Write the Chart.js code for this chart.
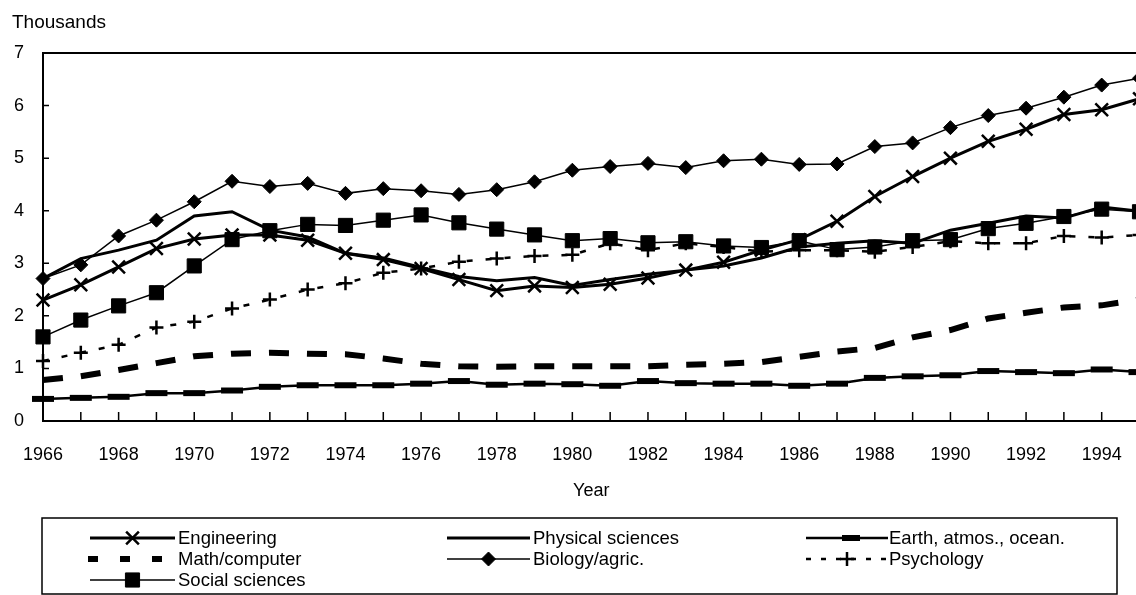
<!DOCTYPE html>
<html>
<head>
<meta charset="utf-8">
<script src="https://cdn.jsdelivr.net/npm/chart.js@4.4.1/dist/chart.umd.min.js"></script>
<style>
  html, body { margin: 0; padding: 0; background: #fff; overflow: hidden; }
  canvas { display: block; }
</style>
</head>
<body>
<canvas id="chart" width="1140" height="595"></canvas>
<script>
// years 1966-1995
const years = [1966, 1967, 1968, 1969, 1970, 1971, 1972, 1973, 1974, 1975,
  1976, 1977, 1978, 1979, 1980, 1981, 1982, 1983, 1984, 1985,
  1986, 1987, 1988, 1989, 1990, 1991, 1992, 1993, 1994, 1995];
const xTickLabels = [1966, 1968, 1970, 1972, 1974, 1976, 1978, 1980, 1982, 1984, 1986, 1988, 1990, 1992, 1994];
const yTickValues = [0, 1, 2, 3, 4, 5, 6, 7];

// thousands
const engineering = [2.30, 2.59, 2.93, 3.28, 3.46, 3.54, 3.54, 3.44, 3.19, 3.07, 2.90, 2.69, 2.48, 2.57, 2.54,
  2.60, 2.72, 2.87, 3.02, 3.25, 3.45, 3.80, 4.27, 4.65, 5.00, 5.32, 5.55, 5.83, 5.92, 6.13];
const physical = [2.71, 3.09, 3.25, 3.44, 3.90, 3.98, 3.63, 3.50, 3.19, 3.10, 2.92, 2.75, 2.67, 2.73, 2.58,
  2.69, 2.79, 2.87, 2.95, 3.10, 3.31, 3.38, 3.43, 3.38, 3.63, 3.76, 3.90, 3.86, 4.07, 3.99];
const earth = [0.42, 0.44, 0.46, 0.53, 0.53, 0.58, 0.65, 0.68, 0.68, 0.68, 0.71, 0.76, 0.69, 0.71, 0.70,
  0.67, 0.76, 0.72, 0.71, 0.71, 0.67, 0.71, 0.82, 0.85, 0.87, 0.95, 0.93, 0.91, 0.98, 0.93];
const mathComputer = [0.78, 0.85, 0.97, 1.10, 1.23, 1.28, 1.30, 1.28, 1.27, 1.19, 1.09, 1.04, 1.03, 1.04, 1.04,
  1.04, 1.04, 1.07, 1.09, 1.12, 1.22, 1.32, 1.39, 1.59, 1.73, 1.95, 2.06, 2.16, 2.20, 2.31];
const biology = [2.71, 2.97, 3.52, 3.82, 4.17, 4.56, 4.46, 4.52, 4.33, 4.42, 4.38, 4.31, 4.40, 4.55, 4.77,
  4.84, 4.90, 4.82, 4.95, 4.98, 4.88, 4.89, 5.22, 5.29, 5.58, 5.81, 5.95, 6.16, 6.39, 6.52];
const psychology = [1.14, 1.30, 1.45, 1.78, 1.89, 2.14, 2.31, 2.50, 2.62, 2.82, 2.90, 3.03, 3.09, 3.14, 3.16,
  3.38, 3.25, 3.38, 3.31, 3.22, 3.25, 3.25, 3.22, 3.31, 3.42, 3.38, 3.38, 3.52, 3.49, 3.54];
const social = [1.60, 1.92, 2.19, 2.44, 2.95, 3.45, 3.62, 3.74, 3.72, 3.82, 3.92, 3.77, 3.65, 3.54, 3.43,
  3.47, 3.39, 3.41, 3.33, 3.30, 3.43, 3.26, 3.31, 3.43, 3.45, 3.66, 3.76, 3.89, 4.03, 3.98];

const tickFont = { family: '"Liberation Sans", Arial, sans-serif', size: 18 };
const unitFont = '19px "Liberation Sans", Arial, sans-serif';
const legendFont = '18.5px "Liberation Sans", Arial, sans-serif';

const black = "#000";

function line(label, data, opts) {
  return Object.assign({
    label, data,
    borderColor: black, backgroundColor: black,
    pointBorderColor: black, pointBackgroundColor: black,
    pointRadius: 0, pointHoverRadius: 0,
    tension: 0, clip: false,
  }, opts);
}

const datasets = [
  line("Engineering", engineering, { borderWidth: 3, pointStyle: "crossRot", pointRadius: 9, pointBorderWidth: 2.5 }),
  line("Physical sciences", physical, { borderWidth: 3 }),
  line("Earth, atmos., ocean.", earth, { borderWidth: 2.5, pointStyle: "line", pointRadius: 11, pointBorderWidth: 6 }),
  line("Math/computer", mathComputer, { borderWidth: 6, borderDash: [20, 18] }),
  line("Biology/agric.", biology, { borderWidth: 1.5, pointStyle: "rectRot", pointRadius: 7, pointBorderWidth: 1 }),
  line("Psychology", psychology, { borderWidth: 2.5, borderDash: [6, 13], pointStyle: "cross", pointRadius: 7, pointBorderWidth: 2.5 }),
  line("Social sciences", social, { borderWidth: 1.5, pointStyle: "rect", pointRadius: 10, pointBorderWidth: 1 }),
];

// legend slots: [column, row], with per-item sample dash
const legendCols = [{ x0: 90, x1: 175, tx: 178 }, { x0: 447, x1: 530, tx: 533 }, { x0: 806, x1: 888, tx: 889 }];
const legendRows = [538, 559, 580];
const legendSlots = [[0, 0], [1, 0], [2, 0], [0, 1], [1, 1], [2, 1], [0, 2]];
const legendDash = { 3: [10, 22], 5: [5, 10] };

const framePlugin = {
  id: "frame",
  afterDraw(chart) {
    const { ctx, chartArea: a, scales: { x, y } } = chart;
    ctx.save();
    ctx.strokeStyle = black;
    ctx.fillStyle = black;

    // top border
    ctx.lineWidth = 2;
    ctx.beginPath();
    ctx.moveTo(a.left, a.top);
    ctx.lineTo(a.right, a.top);
    ctx.stroke();

    // inward tick marks
    ctx.lineWidth = 1.5;
    ctx.beginPath();
    years.forEach((yr, i) => {
      const px = x.getPixelForValue(i);
      ctx.moveTo(px, a.bottom);
      ctx.lineTo(px, a.bottom - 9);
    });
    yTickValues.forEach(v => {
      const py = y.getPixelForValue(v);
      ctx.moveTo(a.left, py);
      ctx.lineTo(a.left + 6, py);
    });
    ctx.stroke();

    // unit label
    ctx.font = unitFont;
    ctx.textBaseline = "alphabetic";
    ctx.fillText("Thousands", 12, 28);

    // legend box
    ctx.lineWidth = 1.5;
    ctx.strokeRect(42, 518, 1075, 76);

    ctx.font = legendFont;
    ctx.textBaseline = "middle";
    chart.data.datasets.forEach((ds, i) => {
      const [c, r] = legendSlots[i];
      const col = legendCols[c];
      const ly = legendRows[r];
      ctx.save();
      ctx.lineWidth = ds.borderWidth;
      ctx.setLineDash(legendDash[i] || []);
      ctx.beginPath();
      ctx.moveTo(i === 3 ? 88 : col.x0, ly);
      ctx.lineTo(i === 3 ? 162 : col.x1, ly);
      ctx.stroke();
      ctx.restore();
      if (ds.pointRadius > 0) {
        ctx.save();
        ctx.lineWidth = ds.pointBorderWidth;
        Chart.helpers.drawPoint(ctx, {
          pointStyle: ds.pointStyle, radius: i === 2 ? 9 : ds.pointRadius,
          borderWidth: ds.pointBorderWidth, rotation: 0,
        }, (col.x0 + col.x1) / 2 + (i === 2 ? 4 : 0), ly);
        ctx.restore();
      }
      ctx.fillText(ds.label, col.tx, ly + 1);
    });
    ctx.restore();
  }
};

new Chart(document.getElementById("chart"), {
  type: "line",
  data: { labels: years, datasets },
  options: {
    responsive: false,
    animation: false,
    events: [],
    layout: { autoPadding: false, padding: { top: 53, left: 0, right: 0.5, bottom: 0 } },
    plugins: { legend: { display: false }, tooltip: { enabled: false } },
    scales: {
      x: {
        type: "category",
        offset: false,
        afterFit: s => { s.height = 174; s.paddingLeft = 0; s.paddingRight = 0; },
        grid: { drawOnChartArea: false, drawTicks: false },
        border: { display: true, color: black, width: 2 },
        ticks: {
          autoSkip: false, maxRotation: 0, padding: 23, color: black, font: tickFont,
          callback: (v, i) => xTickLabels.includes(years[i]) ? String(years[i]) : "",
        },
        title: { display: true, text: "Year", color: black, font: tickFont, padding: { top: 0, bottom: 93 } },
      },
      y: {
        min: 0, max: 7,
        afterFit: s => { s.width = 43; s.paddingTop = 0; s.paddingBottom = 0; },
        grid: { drawOnChartArea: false, drawTicks: false },
        border: { display: true, color: black, width: 2 },
        ticks: { stepSize: 1, padding: 19, color: black, font: tickFont },
      },
    },
  },
  plugins: [framePlugin],
});
</script>
</body>
</html>
